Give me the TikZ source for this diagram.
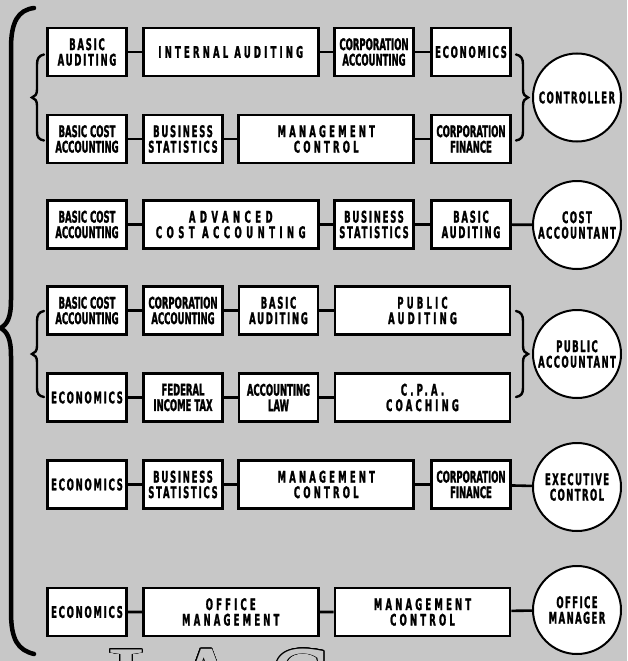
\documentclass[tikz,border=0pt]{standalone}
\usepackage{fontspec}
\usepackage{contour}
\usetikzlibrary{positioning}
\newfontfamily\coursefont{DejaVu Sans}[FakeStretch=0.53, FakeBold=1.4]
\newfontfamily\mottofont{Liberation Serif}[LetterSpace=15]
\newcommand\cfont{\coursefont\bfseries\fontsize{16}{15.5}\selectfont}
\definecolor{paper}{gray}{0.78}
\contourlength{0.9pt}
\contournumber{16}

\tikzset{
  course/.style={draw, line width=2.6pt, fill=white, inner sep=0pt,
    minimum width=79pt, minimum height=48pt, align=center, font=\cfont},
  longbox/.style={minimum width=175pt},
  loose/.style={font=\cfont\addfontfeature{LetterSpace=11}},
  looser/.style={font=\cfont\addfontfeature{LetterSpace=20}},
  loosest/.style={font=\cfont\addfontfeature{LetterSpace=28}},
  career/.style={circle, draw, line width=2pt, fill=white, minimum size=88pt,
    inner sep=0pt, align=center, font=\cfont\addfontfeature{LetterSpace=9}},
  link/.style={line width=2.6pt},
  brace/.style={line width=2.4pt, line cap=round}
}

\begin{document}
\begin{tikzpicture}[x=1pt, y=-1pt]
    \useasboundingbox (0,0) rectangle (627,661);
    \fill[paper] (0,0) rectangle (627,661);
    \clip (0,0) rectangle (627,661);

    % outlined letters cut off at the bottom
    \node[anchor=base west, inner sep=0pt, font=\mottofont\fontsize{120}{120}\selectfont]
        (motto) at (106,728) {\textcolor{paper}{\contour{black}{IAS}}};

    % controller
    \node[course, loose] (ca1) at (87,52) {BASIC\\AUDITING};
    \node[course, longbox, looser] (ca2) at (230.75,52) {INTERNAL AUDITING};
    \node[course] (ca3) at (374,52) {CORPORATION\\ACCOUNTING};
    \node[course, loose] (ca4) at (471,52) {ECONOMICS};
    \node[course] (cb1) at (87,139) {BASIC COST\\ACCOUNTING};
    \node[course, loose] (cb2) at (183,139) {BUSINESS\\STATISTICS};
    \node[course, longbox, looser] (cb3) at (326.25,139) {MANAGEMENT\\CONTROL};
    \node[course] (cb4) at (471,139) {CORPORATION\\FINANCE};
    \node[career] (controller) at (577,97.5) {CONTROLLER};

    % cost accountant
    \node[course] (co1) at (87,224.5) {BASIC COST\\ACCOUNTING};
    \node[course, longbox, loosest] (co2) at (230.75,224.5) {ADVANCED\\COST ACCOUNTING};
    \node[course, loose] (co3) at (374,224.5) {BUSINESS\\STATISTICS};
    \node[course, loose] (co4) at (471,224.5) {BASIC\\AUDITING};
    \node[career] (costacct) at (577,225) {COST\\ACCOUNTANT};

    % public accountant
    \node[course] (pa1) at (87,310.5) {BASIC COST\\ACCOUNTING};
    \node[course] (pa2) at (183,310.5) {CORPORATION\\ACCOUNTING};
    \node[course, loose] (pa3) at (278.5,310.5) {BASIC\\AUDITING};
    \node[course, longbox, looser] (pa4) at (422.5,310.5) {PUBLIC\\AUDITING};
    \node[course, loose] (pb1) at (87,397.5) {ECONOMICS};
    \node[course] (pb2) at (183,397.5) {FEDERAL\\INCOME TAX};
    \node[course] (pb3) at (278.5,397.5) {ACCOUNTING\\LAW};
    \node[course, longbox, looser] (pb4) at (422.5,397.5) {C.P.A.\\COACHING};
    \node[career] (publicacct) at (577,354) {PUBLIC\\ACCOUNTANT};

    % executive control
    \node[course, loose] (ex1) at (87,484.5) {ECONOMICS};
    \node[course, loose] (ex2) at (183,484.5) {BUSINESS\\STATISTICS};
    \node[course, longbox, looser] (ex3) at (326.25,484.5) {MANAGEMENT\\CONTROL};
    \node[course] (ex4) at (471,484.5) {CORPORATION\\FINANCE};
    \node[career] (execctl) at (577,487) {EXECUTIVE\\CONTROL};

    % office manager
    \node[course, loose] (of1) at (87,612) {ECONOMICS};
    \node[course, longbox, looser] (of2) at (230.75,612) {OFFICE\\MANAGEMENT};
    \node[course, longbox, looser] (of3) at (422.5,612) {MANAGEMENT\\CONTROL};
    \node[career] (officemgr) at (577,610) {OFFICE\\MANAGER};

    \foreach \r in {ca,cb,pa,pb}
        \draw[link] (\r1) -- (\r2) -- (\r3) -- (\r4);
    \draw[link] (co1) -- (co2) -- (co3) -- (co4) -- (costacct);
    \draw[link] (ex1) -- (ex2) -- (ex3) -- (ex4) -- (execctl);
    \draw[link] (of1) -- (of2) -- (of3) -- (officemgr);

    % braces
    \foreach \yc in {97.5,354}
        \foreach \xs/\xf in {0/1,560/-1}
            \draw[brace, shift={(\xs,\yc)}, xscale=\xf]
                (44,-43) .. controls (39,-42) and (37,-39) .. (37,-33) -- (37,-8)
                .. controls (37,-3) and (35,-1) .. (32,0)
                .. controls (35,1) and (37,3) .. (37,8) -- (37,34)
                .. controls (37,40) and (39,42) .. (44,43);
    \draw[brace, line width=4.5pt]
        (34,8) .. controls (18,10) and (11,22) .. (11,48) -- (11,300)
        .. controls (11,318) and (7,324) .. (1,328)
        .. controls (7,332) and (11,338) .. (11,356) -- (11,612)
        .. controls (11,640) and (18,650) .. (34,654);
\end{tikzpicture}
\end{document}
